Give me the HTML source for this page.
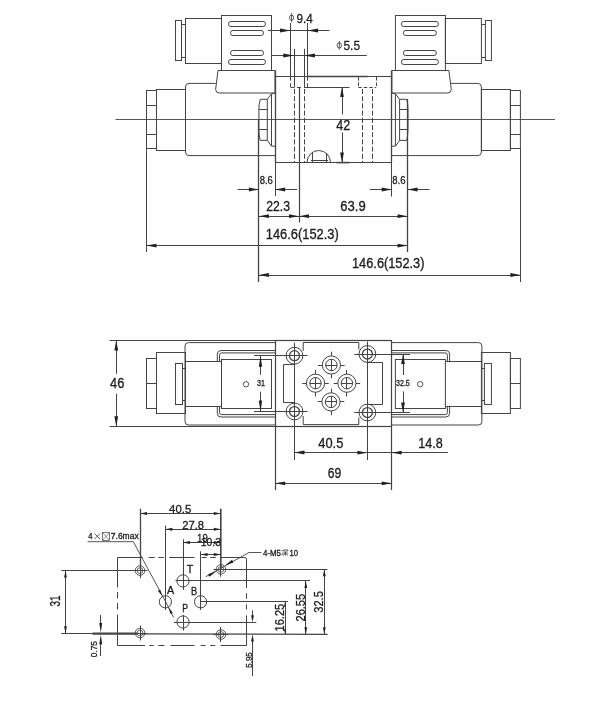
<!DOCTYPE html>
<html><head><meta charset="utf-8"><title>Drawing</title>
<style>
html,body{margin:0;padding:0;background:#fff;}
body{width:600px;height:714px;overflow:hidden;}
svg{display:block;}
svg text{font-family:"Liberation Sans",sans-serif;fill:#1c1c1c;stroke:#1c1c1c;stroke-width:0.3px;}
svg{transform:translateZ(0);will-change:transform;}
</style></head>
<body>
<svg width="600" height="714" viewBox="0 0 600 714" fill="none" stroke="#444444" stroke-width="1" stroke-linecap="butt" stroke-linejoin="miter">
<rect x="0" y="0" width="600" height="714" fill="#ffffff" stroke="none"/>
<line x1="115.5" y1="119.5" x2="555" y2="119.5" stroke-width="0.9" />
<rect x="146.5" y="90.5" width="10.0" height="58.0" rx="0" stroke-width="1.0" fill="none"/>
<line x1="146.5" y1="105.5" x2="156.5" y2="105.5" stroke-width="1.0" />
<line x1="146.5" y1="134.5" x2="156.5" y2="134.5" stroke-width="1.0" />
<rect x="156.5" y="89.5" width="29.0" height="61.0" rx="0" stroke-width="1.0" fill="none"/>
<path d="M215.8,83.4 L189,83.4 Q185.5,83.4 185.5,87 L185.5,152 Q185.5,155.6 189,155.6 L275,155.6" stroke-width="1.0" fill="none"/>
<rect x="175.5" y="20.5" width="6.0" height="40.0" rx="0" stroke-width="1.0" fill="none"/>
<line x1="181.75" y1="24.5" x2="185" y2="24.5" stroke-width="1.0" />
<line x1="181.75" y1="57.5" x2="185" y2="57.5" stroke-width="1.0" />
<rect x="185.5" y="18.5" width="36.0" height="45.0" rx="0" stroke-width="1.0" fill="none"/>
<rect x="221.5" y="15.5" width="50.0" height="55.0" rx="0" stroke-width="1.0" fill="none"/>
<rect x="228.5" y="21.5" width="37.0" height="5.0" rx="2.4" stroke-width="1.0" fill="none"/>
<rect x="230.5" y="30.5" width="33.0" height="5.0" rx="2.4" stroke-width="1.0" fill="none"/>
<rect x="230.5" y="50.5" width="33.0" height="5.0" rx="2.4" stroke-width="1.0" fill="none"/>
<rect x="228.5" y="59.5" width="37.0" height="5.0" rx="2.4" stroke-width="1.0" fill="none"/>
<path d="M218,70.5 L275,70.5 L275,93 L219.5,93 Q215.8,93 215.6,89.5 Z" stroke-width="1.0" fill="none"/>
<path d="M267.3,99.3 L260.2,99.3 Q258.9,104 258.9,109.3 L258.9,129.3 Q258.9,135 260.2,140.4 L267.3,140.4 Z" stroke-width="1.0" fill="none"/>
<line x1="258.9" y1="109.5" x2="267.3" y2="109.5" stroke-width="1.0" />
<line x1="258.9" y1="129.5" x2="267.3" y2="129.5" stroke-width="1.0" />
<path d="M267.3,99.3 L271.3,94 L275,93" stroke-width="1.0" fill="none"/>
<path d="M267.3,140.4 L271.3,146 L275,146.3" stroke-width="1.0" fill="none"/>
<line x1="271.5" y1="94" x2="271.5" y2="146" stroke-width="1.0" />
<g transform="translate(666.9,0) scale(-1,1)">
<rect x="146.5" y="90.5" width="10.0" height="58.0" rx="0" stroke-width="1.0" fill="none"/>
<line x1="146.5" y1="105.5" x2="156.5" y2="105.5" stroke-width="1.0" />
<line x1="146.5" y1="134.5" x2="156.5" y2="134.5" stroke-width="1.0" />
<rect x="156.5" y="89.5" width="29.0" height="61.0" rx="0" stroke-width="1.0" fill="none"/>
<path d="M215.8,83.4 L189,83.4 Q185.5,83.4 185.5,87 L185.5,152 Q185.5,155.6 189,155.6 L275,155.6" stroke-width="1.0" fill="none"/>
<rect x="175.5" y="20.5" width="6.0" height="40.0" rx="0" stroke-width="1.0" fill="none"/>
<line x1="181.75" y1="24.5" x2="185" y2="24.5" stroke-width="1.0" />
<line x1="181.75" y1="57.5" x2="185" y2="57.5" stroke-width="1.0" />
<rect x="185.5" y="18.5" width="36.0" height="45.0" rx="0" stroke-width="1.0" fill="none"/>
<rect x="221.5" y="15.5" width="50.0" height="55.0" rx="0" stroke-width="1.0" fill="none"/>
<rect x="228.5" y="21.5" width="37.0" height="5.0" rx="2.4" stroke-width="1.0" fill="none"/>
<rect x="230.5" y="30.5" width="33.0" height="5.0" rx="2.4" stroke-width="1.0" fill="none"/>
<rect x="230.5" y="50.5" width="33.0" height="5.0" rx="2.4" stroke-width="1.0" fill="none"/>
<rect x="228.5" y="59.5" width="37.0" height="5.0" rx="2.4" stroke-width="1.0" fill="none"/>
<path d="M218,70.5 L275,70.5 L275,93 L219.5,93 Q215.8,93 215.6,89.5 Z" stroke-width="1.0" fill="none"/>
<path d="M267.3,99.3 L260.2,99.3 Q258.9,104 258.9,109.3 L258.9,129.3 Q258.9,135 260.2,140.4 L267.3,140.4 Z" stroke-width="1.0" fill="none"/>
<line x1="258.9" y1="109.5" x2="267.3" y2="109.5" stroke-width="1.0" />
<line x1="258.9" y1="129.5" x2="267.3" y2="129.5" stroke-width="1.0" />
<path d="M267.3,99.3 L271.3,94 L275,93" stroke-width="1.0" fill="none"/>
<path d="M267.3,140.4 L271.3,146 L275,146.3" stroke-width="1.0" fill="none"/>
<line x1="271.5" y1="94" x2="271.5" y2="146" stroke-width="1.0" />
</g>
<line x1="275.5" y1="70.5" x2="275.5" y2="162.5" stroke-width="1.3" />
<line x1="391.5" y1="70.5" x2="391.5" y2="162.5" stroke-width="1.3" />
<line x1="275" y1="76.5" x2="391.5" y2="76.5" stroke-width="1.0" />
<line x1="307.4" y1="76.6" x2="367.5" y2="76.6" stroke-width="1.5" />
<line x1="304" y1="87.5" x2="349.5" y2="87.5" stroke-width="1.2" />
<line x1="297" y1="87.5" x2="301" y2="87.5" stroke-width="1.0" />
<line x1="275" y1="162.5" x2="391.7" y2="162.5" stroke-width="1.2" />
<line x1="290.5" y1="23" x2="290.5" y2="76.6" stroke-width="1.0" />
<line x1="307.5" y1="23" x2="307.5" y2="76.6" stroke-width="1.0" />
<line x1="290.5" y1="76.5" x2="290.5" y2="87.3" stroke-width="1.0" stroke-dasharray="4.2,2.6" />
<line x1="307.5" y1="76.5" x2="307.5" y2="87.3" stroke-width="1.0" stroke-dasharray="4.2,2.6" />
<line x1="290.8" y1="87.5" x2="294.6" y2="87.5" stroke-width="1.0" />
<line x1="294.5" y1="48.75" x2="294.5" y2="87" stroke-width="1.0" />
<line x1="304.5" y1="48.75" x2="304.5" y2="87" stroke-width="1.0" />
<line x1="294.5" y1="89" x2="294.5" y2="162.5" stroke-width="1.0" stroke-dasharray="5,2.2" />
<line x1="304.5" y1="89" x2="304.5" y2="162.5" stroke-width="1.0" stroke-dasharray="5,2.2" />
<line x1="358.5" y1="77" x2="358.5" y2="87" stroke-width="1.0" stroke-dasharray="3.5,2" />
<line x1="376.5" y1="77" x2="376.5" y2="87" stroke-width="1.0" stroke-dasharray="3.5,2" />
<line x1="358.25" y1="87.5" x2="376.25" y2="87.5" stroke-width="1.0" stroke-dasharray="3.5,2" />
<line x1="362.5" y1="89" x2="362.5" y2="162.5" stroke-width="1.0" stroke-dasharray="5,2.2" />
<line x1="372.5" y1="89" x2="372.5" y2="162.5" stroke-width="1.0" stroke-dasharray="5,2.2" />
<path d="M307,162.5 A11.75,12 0 0 1 330.5,162.5" stroke-width="1.0" fill="none"/>
<line x1="312.5" y1="153" x2="312.5" y2="162.5" stroke-width="1.0" />
<line x1="326.5" y1="153" x2="326.5" y2="162.5" stroke-width="1.0" />
<line x1="311" y1="160.5" x2="328" y2="160.5" stroke-width="1.0" />
<line x1="299.5" y1="87" x2="299.5" y2="222.5" stroke-width="1.2" />
<line x1="268" y1="30.5" x2="329.5" y2="30.5" stroke-width="1.0" />
<polygon points="290.5,30.5 280.00,32.40 280.00,28.60" fill="#222222" stroke="none"/>
<polygon points="307.5,30.5 318.00,28.60 318.00,32.40" fill="#222222" stroke="none"/>
<ellipse cx="291.6" cy="17.7" rx="2.1" ry="2.6" stroke-width="0.9"/>
<line x1="291.6" y1="13" x2="291.6" y2="22.3" stroke-width="0.9" />
<text x="296.5" y="22.8" font-size="13.6" text-anchor="start" textLength="16.3" lengthAdjust="spacingAndGlyphs" font-weight="normal" >9.4</text>
<line x1="272" y1="55.5" x2="366.8" y2="55.5" stroke-width="1.0" />
<polygon points="294.3,55.5 283.30,57.40 283.30,53.60" fill="#222222" stroke="none"/>
<polygon points="304,55.5 315.00,53.60 315.00,57.40" fill="#222222" stroke="none"/>
<ellipse cx="339.3" cy="45.4" rx="2.2" ry="2.6" stroke-width="0.9"/>
<line x1="339.3" y1="41" x2="339.3" y2="49.6" stroke-width="0.9" />
<text x="343.5" y="49.8" font-size="13.6" text-anchor="start" textLength="16.5" lengthAdjust="spacingAndGlyphs" font-weight="normal" >5.5</text>
<line x1="342.5" y1="87" x2="342.5" y2="114.5" stroke-width="1.0" />
<line x1="342.5" y1="132.5" x2="342.5" y2="162.5" stroke-width="1.0" />
<polygon points="342,87 343.90,97.00 340.10,97.00" fill="#222222" stroke="none"/>
<polygon points="342,162.5 340.10,152.50 343.90,152.50" fill="#222222" stroke="none"/>
<line x1="336.5" y1="162.6" x2="349.5" y2="162.6" stroke-width="1.6" />
<text x="336.2" y="129.8" font-size="14" text-anchor="start" textLength="14" lengthAdjust="spacingAndGlyphs" font-weight="normal" >42</text>
<line x1="258.5" y1="119.5" x2="258.5" y2="282" stroke-width="1.3" />
<line x1="275.5" y1="140" x2="275.5" y2="196" stroke-width="1.0" />
<line x1="391.5" y1="140" x2="391.5" y2="196.5" stroke-width="1.0" />
<line x1="407.5" y1="99" x2="407.5" y2="252" stroke-width="1.3" />
<line x1="146.5" y1="148.5" x2="146.5" y2="252" stroke-width="1.0" />
<line x1="520.5" y1="148.5" x2="520.5" y2="282" stroke-width="1.0" />
<line x1="237.5" y1="189.5" x2="258.9" y2="189.5" stroke-width="1.0" />
<line x1="275.2" y1="189.5" x2="297" y2="189.5" stroke-width="1.0" />
<polygon points="258.9,189.5 248.90,191.40 248.90,187.60" fill="#222222" stroke="none"/>
<polygon points="275.2,189.5 285.20,187.60 285.20,191.40" fill="#222222" stroke="none"/>
<text x="259.7" y="184" font-size="11.2" text-anchor="start" textLength="13.2" lengthAdjust="spacingAndGlyphs" font-weight="normal" >8.6</text>
<line x1="370" y1="189.5" x2="391.7" y2="189.5" stroke-width="1.0" />
<line x1="407.6" y1="189.5" x2="429.5" y2="189.5" stroke-width="1.0" />
<polygon points="391.7,189.5 381.70,191.40 381.70,187.60" fill="#222222" stroke="none"/>
<polygon points="407.6,189.5 417.60,187.60 417.60,191.40" fill="#222222" stroke="none"/>
<text x="392.3" y="184" font-size="11.2" text-anchor="start" textLength="13.2" lengthAdjust="spacingAndGlyphs" font-weight="normal" >8.6</text>
<line x1="258.9" y1="216.5" x2="407.6" y2="216.5" stroke-width="1.0" />
<polygon points="258.9,216.2 268.90,214.30 268.90,218.10" fill="#222222" stroke="none"/>
<polygon points="299,216.2 289.00,218.10 289.00,214.30" fill="#222222" stroke="none"/>
<polygon points="299,216.2 309.00,214.30 309.00,218.10" fill="#222222" stroke="none"/>
<polygon points="407.6,216.2 397.60,218.10 397.60,214.30" fill="#222222" stroke="none"/>
<text x="266.3" y="210.8" font-size="14" text-anchor="start" textLength="23.7" lengthAdjust="spacingAndGlyphs" font-weight="normal" >22.3</text>
<text x="340.3" y="210.8" font-size="14" text-anchor="start" textLength="25.4" lengthAdjust="spacingAndGlyphs" font-weight="normal" >63.9</text>
<line x1="146.5" y1="245.5" x2="407.6" y2="245.5" stroke-width="1.0" />
<polygon points="146.5,245.6 156.50,243.70 156.50,247.50" fill="#222222" stroke="none"/>
<polygon points="407.6,245.6 397.60,247.50 397.60,243.70" fill="#222222" stroke="none"/>
<text x="265.8" y="238.8" font-size="14" text-anchor="start" textLength="73" lengthAdjust="spacingAndGlyphs" font-weight="normal" >146.6(152.3)</text>
<line x1="258.9" y1="275.5" x2="520.4" y2="275.5" stroke-width="1.0" />
<polygon points="258.9,275 268.90,273.10 268.90,276.90" fill="#222222" stroke="none"/>
<polygon points="520.4,275 510.40,276.90 510.40,273.10" fill="#222222" stroke="none"/>
<text x="352" y="267.9" font-size="14" text-anchor="start" textLength="72.5" lengthAdjust="spacingAndGlyphs" font-weight="normal" >146.6(152.3)</text>
<line x1="109.5" y1="340.5" x2="275" y2="340.5" stroke-width="1.1" />
<line x1="109.5" y1="426.5" x2="275" y2="426.5" stroke-width="1.1" />
<line x1="116.5" y1="340.5" x2="116.5" y2="373.75" stroke-width="1.0" />
<line x1="116.5" y1="393.75" x2="116.5" y2="426.3" stroke-width="1.0" />
<polygon points="116.25,340.5 118.15,350.50 114.35,350.50" fill="#222222" stroke="none"/>
<polygon points="116.25,426.3 114.35,416.30 118.15,416.30" fill="#222222" stroke="none"/>
<text x="110" y="387.8" font-size="14" text-anchor="start" textLength="14.3" lengthAdjust="spacingAndGlyphs" font-weight="normal" >46</text>
<rect x="146.5" y="358.5" width="10.0" height="50.0" rx="0" stroke-width="1.0" fill="none"/>
<line x1="146.25" y1="383.5" x2="156.25" y2="383.5" stroke-width="1.0" />
<rect x="156.5" y="352.5" width="29.0" height="61.0" rx="0" stroke-width="1.0" fill="none"/>
<path d="M275,342.6 L188.5,342.6 Q185,342.6 185,346 L185,421.5 Q185,425 188.5,425 L275,425" stroke-width="1.0" fill="none"/>
<rect x="175.5" y="363.5" width="7.0" height="41.0" rx="0" stroke-width="1.0" fill="none"/>
<line x1="182" y1="368.5" x2="185" y2="368.5" stroke-width="1.0" />
<line x1="182" y1="400.5" x2="185" y2="400.5" stroke-width="1.0" />
<line x1="185" y1="361.5" x2="221.3" y2="361.5" stroke-width="1.0" />
<line x1="185" y1="406.5" x2="221.3" y2="406.5" stroke-width="1.0" />
<path d="M275,350.5 L221,350.5 Q217.3,350.5 217.3,354 L217.3,361.7 M217.3,406.6 L217.3,413.4 Q217.3,417 221,417 L275,417" stroke-width="1.0" fill="none"/>
<path d="M275,352.9 L221.7,352.9 Q219.5,352.9 219.5,355.2 L219.5,361.7 M219.5,406.6 L219.5,412.3 Q219.5,414.6 221.7,414.6 L275,414.6" stroke-width="1.0" fill="none"/>
<rect x="221.5" y="359.5" width="50.0" height="49.0" rx="0" stroke-width="1.0" fill="none"/>
<g transform="translate(666.9,0) scale(-1,1)">
<rect x="146.5" y="358.5" width="10.0" height="50.0" rx="0" stroke-width="1.0" fill="none"/>
<line x1="146.25" y1="383.5" x2="156.25" y2="383.5" stroke-width="1.0" />
<rect x="156.5" y="352.5" width="29.0" height="61.0" rx="0" stroke-width="1.0" fill="none"/>
<path d="M275,342.6 L188.5,342.6 Q185,342.6 185,346 L185,421.5 Q185,425 188.5,425 L275,425" stroke-width="1.0" fill="none"/>
<rect x="175.5" y="363.5" width="7.0" height="41.0" rx="0" stroke-width="1.0" fill="none"/>
<line x1="182" y1="368.5" x2="185" y2="368.5" stroke-width="1.0" />
<line x1="182" y1="400.5" x2="185" y2="400.5" stroke-width="1.0" />
<line x1="185" y1="361.5" x2="221.3" y2="361.5" stroke-width="1.0" />
<line x1="185" y1="406.5" x2="221.3" y2="406.5" stroke-width="1.0" />
<path d="M275,350.5 L221,350.5 Q217.3,350.5 217.3,354 L217.3,361.7 M217.3,406.6 L217.3,413.4 Q217.3,417 221,417 L275,417" stroke-width="1.0" fill="none"/>
<path d="M275,352.9 L221.7,352.9 Q219.5,352.9 219.5,355.2 L219.5,361.7 M219.5,406.6 L219.5,412.3 Q219.5,414.6 221.7,414.6 L275,414.6" stroke-width="1.0" fill="none"/>
<rect x="221.5" y="359.5" width="50.0" height="49.0" rx="0" stroke-width="1.0" fill="none"/>
</g>
<circle cx="246" cy="384.3" r="2.7" stroke-width="0.9" fill="none"/>
<circle cx="420.2" cy="384.2" r="2.7" stroke-width="0.9" fill="none"/>
<rect x="275.5" y="340.5" width="116.0" height="86.0" rx="0" stroke-width="1.2" fill="none"/>
<path d="M303.2,351 L303.2,342.5 L358.8,342.5 L358.8,349.5" stroke-width="1.0" fill="none"/>
<path d="M303.2,416 L303.2,424.6 L358.8,424.6 L358.8,417.5" stroke-width="1.0" fill="none"/>
<path d="M294.5,364.5 L283.5,364.5 L283.5,402.5 L294.5,402.5" stroke-width="1.0" fill="none"/>
<path d="M367.5,362.5 L382.5,362.5 L382.5,404.5 L367.5,404.5" stroke-width="1.0" fill="none"/>
<circle cx="294.5" cy="355.7" r="8.4" stroke-width="1.0" fill="none"/>
<circle cx="294.5" cy="355.7" r="5.0" stroke-width="1.25" fill="none"/>
<circle cx="294.5" cy="411.5" r="8.4" stroke-width="1.0" fill="none"/>
<circle cx="294.5" cy="411.5" r="5.0" stroke-width="1.25" fill="none"/>
<circle cx="367.4" cy="354.0" r="8.4" stroke-width="1.0" fill="none"/>
<circle cx="367.4" cy="354.0" r="5.0" stroke-width="1.25" fill="none"/>
<circle cx="367.4" cy="412.5" r="8.4" stroke-width="1.0" fill="none"/>
<circle cx="367.4" cy="412.5" r="5.0" stroke-width="1.25" fill="none"/>
<line x1="294.5" y1="342.7" x2="294.5" y2="460" stroke-width="1.0" />
<line x1="367.5" y1="341.5" x2="367.5" y2="460" stroke-width="1.0" />
<line x1="254" y1="355.5" x2="307.5" y2="355.5" stroke-width="1.0" />
<line x1="254" y1="411.5" x2="307.5" y2="411.5" stroke-width="1.0" />
<line x1="354.3" y1="354.5" x2="410" y2="354.5" stroke-width="1.0" />
<line x1="354.3" y1="412.5" x2="410" y2="412.5" stroke-width="1.0" />
<circle cx="331.4" cy="365" r="9.1" stroke-width="1.0" fill="none"/>
<circle cx="331.4" cy="365" r="5.7" stroke-width="1.0" fill="none"/>
<line x1="325.7" y1="365.5" x2="337.09999999999997" y2="365.5" stroke-width="1.0" />
<line x1="331.5" y1="359.3" x2="331.5" y2="370.7" stroke-width="1.0" />
<line x1="318.09999999999997" y1="365.5" x2="322.29999999999995" y2="365.5" stroke-width="1.0" />
<line x1="340.5" y1="365.5" x2="344.7" y2="365.5" stroke-width="1.0" />
<line x1="331.5" y1="351.7" x2="331.5" y2="355.9" stroke-width="1.0" />
<line x1="331.5" y1="374.1" x2="331.5" y2="378.3" stroke-width="1.0" />
<circle cx="315.5" cy="383.2" r="9.1" stroke-width="1.0" fill="none"/>
<circle cx="315.5" cy="383.2" r="5.7" stroke-width="1.0" fill="none"/>
<line x1="309.8" y1="383.5" x2="321.2" y2="383.5" stroke-width="1.0" />
<line x1="315.5" y1="377.5" x2="315.5" y2="388.9" stroke-width="1.0" />
<line x1="302.2" y1="383.5" x2="306.4" y2="383.5" stroke-width="1.0" />
<line x1="324.6" y1="383.5" x2="328.8" y2="383.5" stroke-width="1.0" />
<line x1="315.5" y1="369.9" x2="315.5" y2="374.09999999999997" stroke-width="1.0" />
<line x1="315.5" y1="392.3" x2="315.5" y2="396.5" stroke-width="1.0" />
<circle cx="346.9" cy="383.2" r="9.1" stroke-width="1.0" fill="none"/>
<circle cx="346.9" cy="383.2" r="5.7" stroke-width="1.0" fill="none"/>
<line x1="341.2" y1="383.5" x2="352.59999999999997" y2="383.5" stroke-width="1.0" />
<line x1="346.5" y1="377.5" x2="346.5" y2="388.9" stroke-width="1.0" />
<line x1="333.59999999999997" y1="383.5" x2="337.79999999999995" y2="383.5" stroke-width="1.0" />
<line x1="356.0" y1="383.5" x2="360.2" y2="383.5" stroke-width="1.0" />
<line x1="346.5" y1="369.9" x2="346.5" y2="374.09999999999997" stroke-width="1.0" />
<line x1="346.5" y1="392.3" x2="346.5" y2="396.5" stroke-width="1.0" />
<circle cx="331" cy="401.9" r="9.1" stroke-width="1.0" fill="none"/>
<circle cx="331" cy="401.9" r="5.7" stroke-width="1.0" fill="none"/>
<line x1="325.3" y1="401.5" x2="336.7" y2="401.5" stroke-width="1.0" />
<line x1="331.5" y1="396.2" x2="331.5" y2="407.59999999999997" stroke-width="1.0" />
<line x1="317.7" y1="401.5" x2="321.9" y2="401.5" stroke-width="1.0" />
<line x1="340.1" y1="401.5" x2="344.3" y2="401.5" stroke-width="1.0" />
<line x1="331.5" y1="388.59999999999997" x2="331.5" y2="392.79999999999995" stroke-width="1.0" />
<line x1="331.5" y1="411.0" x2="331.5" y2="415.2" stroke-width="1.0" />
<line x1="260.5" y1="355.7" x2="260.5" y2="374.8" stroke-width="1.0" />
<line x1="260.5" y1="391.7" x2="260.5" y2="411.5" stroke-width="1.0" />
<polygon points="260.5,355.7 262.20,366.70 258.80,366.70" fill="#222222" stroke="none"/>
<polygon points="260.5,411.5 258.80,400.50 262.20,400.50" fill="#222222" stroke="none"/>
<text x="257.1" y="386.2" font-size="8.2" text-anchor="start" textLength="8" lengthAdjust="spacingAndGlyphs" font-weight="normal" >31</text>
<line x1="403.5" y1="354" x2="403.5" y2="375" stroke-width="1.0" />
<line x1="403.5" y1="391.5" x2="403.5" y2="412.5" stroke-width="1.0" />
<polygon points="403,354 404.90,364.00 401.10,364.00" fill="#222222" stroke="none"/>
<polygon points="403,412.5 401.10,402.50 404.90,402.50" fill="#222222" stroke="none"/>
<text x="396" y="386.2" font-size="8.2" text-anchor="start" textLength="13.8" lengthAdjust="spacingAndGlyphs" font-weight="normal" >32.5</text>
<line x1="275.5" y1="426.3" x2="275.5" y2="490" stroke-width="1.2" />
<line x1="391.5" y1="426.3" x2="391.5" y2="490" stroke-width="1.2" />
<line x1="294.5" y1="452.5" x2="448" y2="452.5" stroke-width="1.0" />
<polygon points="294.5,452.5 304.50,450.60 304.50,454.40" fill="#222222" stroke="none"/>
<polygon points="367.4,452.7 357.40,454.60 357.40,450.80" fill="#222222" stroke="none"/>
<polygon points="391.7,452.7 401.70,450.80 401.70,454.60" fill="#222222" stroke="none"/>
<text x="318.3" y="447.6" font-size="14" text-anchor="start" textLength="25" lengthAdjust="spacingAndGlyphs" font-weight="normal" >40.5</text>
<text x="418.3" y="447.6" font-size="14" text-anchor="start" textLength="24.5" lengthAdjust="spacingAndGlyphs" font-weight="normal" >14.8</text>
<line x1="275.2" y1="483.5" x2="391.7" y2="483.5" stroke-width="1.0" />
<polygon points="275.2,483.3 285.20,481.40 285.20,485.20" fill="#222222" stroke="none"/>
<polygon points="391.7,483.3 381.70,485.20 381.70,481.40" fill="#222222" stroke="none"/>
<text x="327.7" y="478" font-size="14" text-anchor="start" textLength="13.5" lengthAdjust="spacingAndGlyphs" font-weight="normal" >69</text>
<path d="M117.5,587.5 L117.5,557.5 L142.8,557.5" stroke-width="1.0" fill="none"/>
<line x1="148.7" y1="557.5" x2="154.7" y2="557.5" stroke-width="1.0" />
<line x1="158.3" y1="557.5" x2="163.8" y2="557.5" stroke-width="1.0" />
<line x1="169.2" y1="557.5" x2="194.6" y2="557.5" stroke-width="1.0" />
<line x1="201.8" y1="557.5" x2="206.7" y2="557.5" stroke-width="1.0" />
<line x1="210.3" y1="557.5" x2="215.8" y2="557.5" stroke-width="1.0" />
<path d="M220.7,557.5 L244.8,557.5 Q246.5,557.5 246.5,559.2 L246.5,588" stroke-width="1.0" fill="none"/>
<line x1="246.5" y1="593.4" x2="246.5" y2="598.8" stroke-width="1.0" />
<line x1="246.5" y1="604.4" x2="246.5" y2="609.6" stroke-width="1.0" />
<path d="M246.5,615.4 L246.5,645.5 L220.7,645.5" stroke-width="1.0" fill="none"/>
<line x1="149.4" y1="645.5" x2="153.7" y2="645.5" stroke-width="1.0" />
<line x1="158.3" y1="645.5" x2="164.4" y2="645.5" stroke-width="1.0" />
<line x1="170.4" y1="645.5" x2="194.6" y2="645.5" stroke-width="1.0" />
<line x1="200.6" y1="645.5" x2="205.5" y2="645.5" stroke-width="1.0" />
<line x1="210.3" y1="645.5" x2="215.1" y2="645.5" stroke-width="1.0" />
<path d="M145,645.5 L117.5,645.5 L117.5,614.7" stroke-width="1.0" fill="none"/>
<line x1="117.5" y1="592" x2="117.5" y2="598.5" stroke-width="1.0" />
<line x1="117.5" y1="603" x2="117.5" y2="609.6" stroke-width="1.0" />
<circle cx="140" cy="570.6" r="4.8" stroke-width="0.9" fill="none"/>
<circle cx="140" cy="570.6" r="2.9" stroke-width="0.8" fill="none"/>
<line x1="132.5" y1="570.5" x2="147.5" y2="570.5" stroke-width="1.0" />
<line x1="140.5" y1="563.1" x2="140.5" y2="578.1" stroke-width="1.0" />
<circle cx="220.9" cy="569.3" r="4.8" stroke-width="0.9" fill="none"/>
<circle cx="220.9" cy="569.3" r="2.9" stroke-width="0.8" fill="none"/>
<line x1="213.4" y1="569.5" x2="228.4" y2="569.5" stroke-width="1.0" />
<line x1="220.5" y1="561.8" x2="220.5" y2="576.8" stroke-width="1.0" />
<circle cx="140" cy="633" r="4.8" stroke-width="0.9" fill="none"/>
<circle cx="140" cy="633" r="2.9" stroke-width="0.8" fill="none"/>
<line x1="132.5" y1="633.5" x2="147.5" y2="633.5" stroke-width="1.0" />
<line x1="140.5" y1="625.5" x2="140.5" y2="640.5" stroke-width="1.0" />
<circle cx="220.9" cy="634.5" r="4.8" stroke-width="0.9" fill="none"/>
<circle cx="220.9" cy="634.5" r="2.9" stroke-width="0.8" fill="none"/>
<line x1="213.4" y1="634.5" x2="228.4" y2="634.5" stroke-width="1.0" />
<line x1="220.5" y1="627.0" x2="220.5" y2="642.0" stroke-width="1.0" />
<circle cx="183" cy="580.9" r="6.1" stroke-width="1.0" fill="none"/>
<circle cx="165.4" cy="601.8" r="6.1" stroke-width="1.0" fill="none"/>
<circle cx="200.6" cy="601.8" r="6.1" stroke-width="1.0" fill="none"/>
<circle cx="183" cy="622" r="6.1" stroke-width="1.0" fill="none"/>
<line x1="140.5" y1="508.75" x2="140.5" y2="570.5" stroke-width="1.3" />
<line x1="220.8" y1="508.75" x2="220.8" y2="569.3" stroke-width="1.6" />
<line x1="165.5" y1="525.5" x2="165.5" y2="610" stroke-width="1.0" />
<line x1="183.5" y1="539.25" x2="183.5" y2="590" stroke-width="1.0" />
<line x1="200.5" y1="551.25" x2="200.5" y2="610" stroke-width="1.0" />
<line x1="183.5" y1="615" x2="183.5" y2="630.5" stroke-width="1.0" />
<line x1="61.25" y1="570.5" x2="140" y2="570.5" stroke-width="1.0" />
<line x1="61.25" y1="633.5" x2="140" y2="633.5" stroke-width="1.0" />
<line x1="92.5" y1="633.6" x2="137.5" y2="633.6" stroke-width="2.2" />
<line x1="140" y1="633.9" x2="327.5" y2="634.3" stroke-width="1.3" />
<line x1="220.8" y1="569.5" x2="327.5" y2="569.5" stroke-width="1.0" />
<line x1="175.5" y1="580.5" x2="310" y2="580.5" stroke-width="1.0" />
<line x1="200.6" y1="601.5" x2="288" y2="601.5" stroke-width="1.0" />
<line x1="174" y1="622.5" x2="256.3" y2="622.5" stroke-width="1.0" />
<line x1="140" y1="513.5" x2="220.8" y2="513.5" stroke-width="1.0" />
<polygon points="140,513.5 147.00,512.10 147.00,514.90" fill="#222222" stroke="none"/>
<polygon points="220.8,513.5 213.80,514.90 213.80,512.10" fill="#222222" stroke="none"/>
<text x="169.1" y="512.9" font-size="11.8" text-anchor="start" textLength="22.2" lengthAdjust="spacingAndGlyphs" font-weight="normal" >40.5</text>
<line x1="165.4" y1="529.5" x2="220.8" y2="529.5" stroke-width="1.0" />
<polygon points="165.4,529.25 172.40,527.85 172.40,530.65" fill="#222222" stroke="none"/>
<polygon points="220.8,529.25 213.80,530.65 213.80,527.85" fill="#222222" stroke="none"/>
<text x="182.2" y="528.6" font-size="11.8" text-anchor="start" textLength="21.9" lengthAdjust="spacingAndGlyphs" font-weight="normal" >27.8</text>
<line x1="183" y1="542.5" x2="220.8" y2="542.5" stroke-width="1.0" />
<polygon points="183,542.5 190.00,541.10 190.00,543.90" fill="#222222" stroke="none"/>
<polygon points="220.8,542.5 213.80,543.90 213.80,541.10" fill="#222222" stroke="none"/>
<text x="197.1" y="541.8" font-size="11.8" text-anchor="start" textLength="10.7" lengthAdjust="spacingAndGlyphs" font-weight="normal" >19</text>
<line x1="200.6" y1="554.5" x2="220.8" y2="554.5" stroke-width="1.0" />
<polygon points="200.6,554.5 207.60,553.10 207.60,555.90" fill="#222222" stroke="none"/>
<polygon points="220.8,554.5 213.80,555.90 213.80,553.10" fill="#222222" stroke="none"/>
<text x="200.8" y="546.4" font-size="11.8" text-anchor="start" textLength="20.1" lengthAdjust="spacingAndGlyphs" font-weight="normal" >10.3</text>
<text x="186.8" y="572.6" font-size="10.6" text-anchor="start" font-weight="normal" >T</text>
<text x="167" y="594.4" font-size="10.6" text-anchor="start" textLength="7.2" lengthAdjust="spacingAndGlyphs" font-weight="normal" >A</text>
<text x="191" y="594.8" font-size="10.6" text-anchor="start" textLength="6.2" lengthAdjust="spacingAndGlyphs" font-weight="normal" >B</text>
<text x="182.3" y="612.3" font-size="10.6" text-anchor="start" textLength="5.8" lengthAdjust="spacingAndGlyphs" font-weight="normal" >P</text>
<line x1="65.5" y1="570.5" x2="65.5" y2="633.2" stroke-width="1.0" />
<polygon points="65.5,570.5 66.90,577.50 64.10,577.50" fill="#222222" stroke="none"/>
<polygon points="65.5,633.2 64.10,626.20 66.90,626.20" fill="#222222" stroke="none"/>
<text x="59.7" y="606.4" font-size="14" text-anchor="start" textLength="11" lengthAdjust="spacingAndGlyphs" transform="rotate(-90 59.7 606.4)" font-weight="normal" >31</text>
<line x1="100.5" y1="615" x2="100.5" y2="626" stroke-width="1.0" />
<polygon points="100.75,632.6 99.25,623.10 102.25,623.10" fill="#222222" stroke="none"/>
<line x1="100.5" y1="641" x2="100.5" y2="656" stroke-width="1.0" />
<polygon points="100.75,634.8 102.25,644.30 99.25,644.30" fill="#222222" stroke="none"/>
<text x="97.2" y="657.2" font-size="9.2" text-anchor="start" textLength="16.2" lengthAdjust="spacingAndGlyphs" transform="rotate(-90 97.2 657.2)" font-weight="normal" >0.75</text>
<text x="88.3" y="539.4" font-size="8.4" text-anchor="start" textLength="4.3" lengthAdjust="spacingAndGlyphs" font-weight="normal" >4</text>
<path d="M94.6,533.6 L100,539 M100,533.6 L94.6,539" stroke-width="0.9" fill="none"/>
<rect x="102.5" y="532.5" width="7.0" height="8.0" rx="0" stroke-width="0.7" fill="none"/>
<line x1="102.5" y1="532.5" x2="109.7" y2="540.3" stroke-width="0.6" />
<line x1="109.7" y1="532.5" x2="102.5" y2="540.3" stroke-width="0.6" />
<text x="110.8" y="539.4" font-size="8.4" text-anchor="start" textLength="27.9" lengthAdjust="spacingAndGlyphs" font-weight="normal" >7.6max</text>
<path d="M87.5,541.7 L133.3,541.7 L165.7,601.8 L173.6,617.5" stroke-width="0.9" fill="none"/>
<polygon points="162.3,596.2 157.87,590.65 160.15,589.43" fill="#222222" stroke="none"/>
<polygon points="168.4,607.3 172.83,612.85 170.55,614.07" fill="#222222" stroke="none"/>
<text x="263" y="555.5" font-size="8.4" text-anchor="start" textLength="18" lengthAdjust="spacingAndGlyphs" font-weight="normal" >4-M5</text>
<text x="289.5" y="555.5" font-size="8.4" text-anchor="start" textLength="8.5" lengthAdjust="spacingAndGlyphs" font-weight="normal" >10</text>
<path d="M285.4,551.6 L285.4,555.5 M283.2,553 L287.8,553 M283,555.4 L285.4,553.2 L287.9,555.4 M283.3,550 L287.8,550 L287.8,551.2 M283.3,550 L283.3,551.2 M284.6,551 L284,551.8 M286.4,551 L287,551.8 M281.9,549.8 L282.6,550.6 M281.6,551.8 L282.4,552.5 M281.6,555.4 L282.6,553.4" stroke-width="0.9" fill="none"/>
<path d="M261.3,552.5 L249,552.5 L205.8,576.7" stroke-width="0.9" fill="none"/>
<polygon points="225,565.6 231.99,559.81 233.49,562.39" fill="#222222" stroke="none"/>
<polygon points="216.5,571 209.51,576.79 208.01,574.21" fill="#222222" stroke="none"/>
<line x1="324.5" y1="569.3" x2="324.5" y2="634.3" stroke-width="1.0" />
<polygon points="324.3,569.3 325.70,576.30 322.90,576.30" fill="#222222" stroke="none"/>
<polygon points="324.3,634.3 322.90,627.30 325.70,627.30" fill="#222222" stroke="none"/>
<text x="323.2" y="612.7" font-size="12.8" text-anchor="start" textLength="21.5" lengthAdjust="spacingAndGlyphs" transform="rotate(-90 323.2 612.7)" font-weight="normal" >32.5</text>
<line x1="305.5" y1="580.9" x2="305.5" y2="634.3" stroke-width="1.0" />
<polygon points="305.8,580.9 307.20,587.90 304.40,587.90" fill="#222222" stroke="none"/>
<polygon points="305.8,634.3 304.40,627.30 307.20,627.30" fill="#222222" stroke="none"/>
<text x="304.7" y="621.5" font-size="12.8" text-anchor="start" textLength="27.7" lengthAdjust="spacingAndGlyphs" transform="rotate(-90 304.7 621.5)" font-weight="normal" >26.55</text>
<line x1="285.5" y1="601.8" x2="285.5" y2="634.3" stroke-width="1.0" />
<polygon points="285,601.8 286.00,606.80 284.00,606.80" fill="#222222" stroke="none"/>
<polygon points="285,634.3 284.00,629.30 286.00,629.30" fill="#222222" stroke="none"/>
<text x="284" y="631.5" font-size="12.8" text-anchor="start" textLength="27.7" lengthAdjust="spacingAndGlyphs" transform="rotate(-90 284 631.5)" font-weight="normal" >16.25</text>
<line x1="252.5" y1="610.3" x2="252.5" y2="617" stroke-width="1.0" />
<polygon points="252.5,622.2 251.10,615.20 253.90,615.20" fill="#222222" stroke="none"/>
<line x1="252.5" y1="640" x2="252.5" y2="676" stroke-width="1.0" />
<polygon points="252.5,634.5 253.90,641.50 251.10,641.50" fill="#222222" stroke="none"/>
<text x="251.7" y="667.7" font-size="9.5" text-anchor="start" textLength="15.5" lengthAdjust="spacingAndGlyphs" transform="rotate(-90 251.7 667.7)" font-weight="normal" >5.95</text>
</svg>
</body></html>
